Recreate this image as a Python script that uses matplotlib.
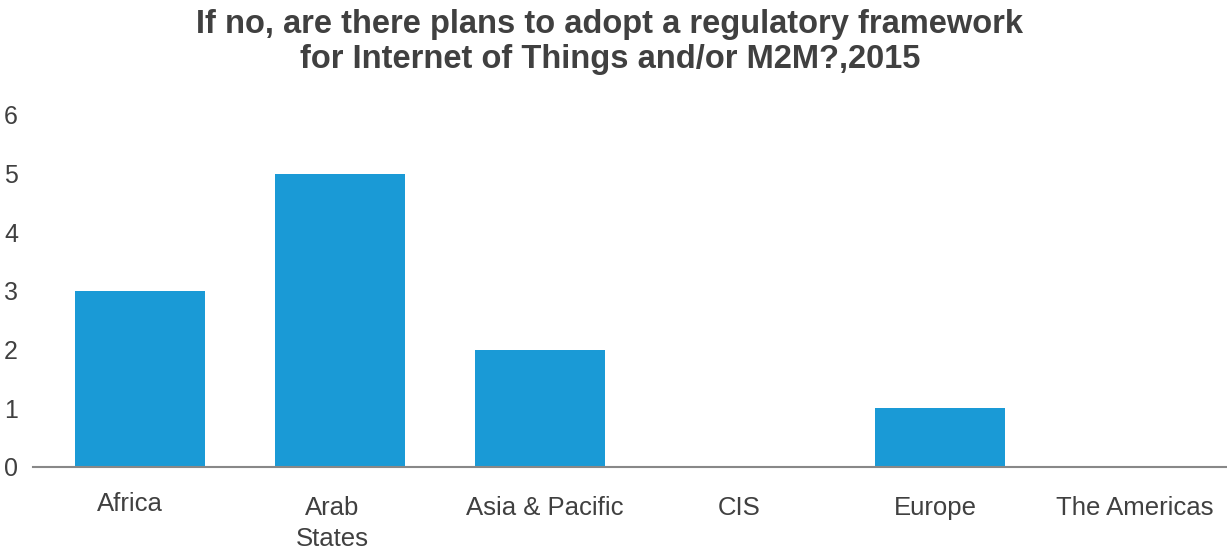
import matplotlib
matplotlib.use('Agg')
import matplotlib.pyplot as plt
from matplotlib.transforms import ScaledTranslation

regions = ['Africa', 'Arab\nStates', 'Asia & Pacific', 'CIS', 'Europe', 'The Americas']
counts = [3, 5, 2, 0, 1, 0]

title = 'If no, are there plans to adopt a regulatory framework\nfor Internet of Things and/or M2M?,2015'


def main():
    plt.rcParams['font.family'] = ['Liberation Sans', 'DejaVu Sans']
    fig = plt.figure(figsize=(12.27, 5.54), dpi=100)
    ax = fig.add_axes([33 / 1227, 1 - 467 / 554, 1 - 33 / 1227, (467 - 115) / 554])

    x = list(range(len(regions)))
    ax.bar(x, counts, width=0.65, color='#1a9ad6', zorder=2)

    ax.set_xlim(-0.535, 5.435)
    ax.set_ylim(0, 6)
    ax.set_yticks(range(7))
    ax.set_xticks(x)
    ax.set_xticklabels(regions, fontsize=18.5, color='#404040', linespacing=1.35)
    ax.tick_params(axis='both', length=0, labelcolor='#404040')
    ax.tick_params(axis='y', labelsize=18)
    ax.tick_params(axis='x', pad=21)
    for lbl in ax.get_yticklabels():
        lbl.set_horizontalalignment('left')
        lbl.set_x(-24 / 1194)

    # nudge the category labels a little, as in the original layout
    nudges = [(-10, 4), (-8, 0), (5, 0), (-1, 0), (-5, 0), (-5, 0)]
    for lbl, (dx, dy) in zip(ax.get_xticklabels(), nudges):
        lbl.set_transform(lbl.get_transform() + ScaledTranslation(dx / 100, dy / 100, fig.dpi_scale_trans))

    for side in ['top', 'right', 'left']:
        ax.spines[side].set_visible(False)
    ax.spines['bottom'].set_color('#888888')
    ax.spines['bottom'].set_linewidth(1.5)

    fig.text(610 / 1227, 1 - 42 / 554, title, ha='center', va='center',
             fontsize=23.5, fontweight='bold', color='#404040',
             linespacing=1.2)

    fig.savefig('out.png', dpi=100)


if __name__ == '__main__':
    main()
